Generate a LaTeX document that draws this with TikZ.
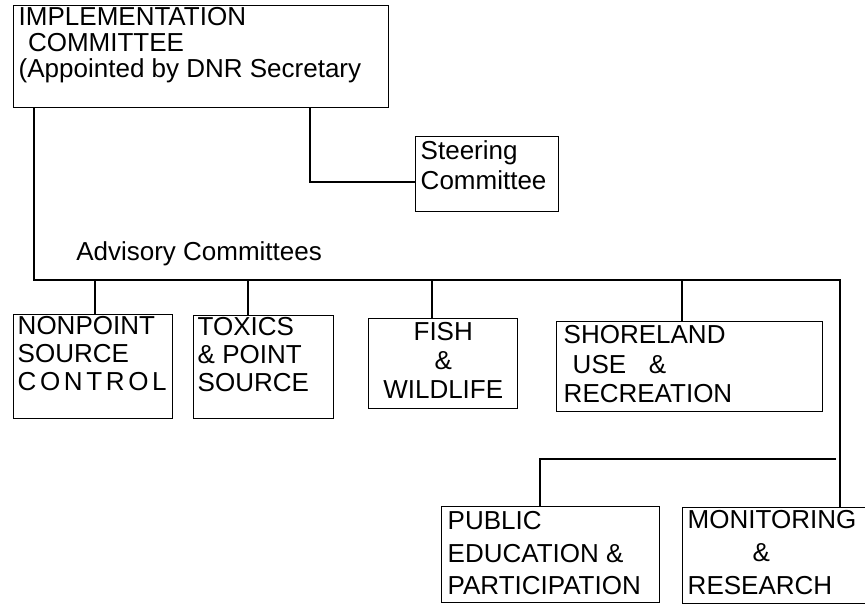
\documentclass[tikz,border=0pt]{standalone}
\usepackage{fontspec}
\setmainfont{Liberation Sans}
\begin{document}
\begin{tikzpicture}[x=0.75pt, y=-0.75pt,
        font=\fontsize{19.5}{19.5}\selectfont,
        committee/.style={draw, line width=1.1pt, anchor=north west, inner xsep=3.75pt, inner ysep=1.5pt},
        link/.style={line width=2.2pt}]
        \useasboundingbox (0,0) rectangle (865,607);
        \clip (0,0) rectangle (865,607);
        % top of the chart
        \node[committee] (impl) at (13,5) {\parbox[t][73.5pt][t]{273.75pt}{\baselineskip=19.5pt IMPLEMENTATION\\ \hspace*{7pt}COMMITTEE\\(Appointed by DNR Secretary}};
        \node[committee, inner ysep=3pt] (steer) at (415,136) {\parbox[t][50.25pt][t]{99.75pt}{\baselineskip=22.5pt Steering\\Committee}};
        \node[anchor=base west, inner sep=0pt] (advisory) at (76,260) {Advisory Committees};
        % advisory committees
        \node[committee, inner xsep=3pt] (nonpoint) at (13,314) {\parbox[t][75pt][t]{113.25pt}{\baselineskip=21pt NONPOINT\\SOURCE\\\addfontfeatures{LetterSpace=14}CONTROL}};
        \node[committee, inner xsep=3pt] (toxics) at (193,315) {\parbox[t][74.25pt][t]{99pt}{\baselineskip=21pt TOXICS\\\& POINT\\SOURCE}};
        \node[committee, inner ysep=3pt] (fish) at (368,318) {\parbox[t][61.5pt][t]{104.25pt}{\centering\baselineskip=21.5pt FISH\\\&\\WILDLIFE}};
        \node[committee, inner xsep=5.25pt, inner ysep=3pt] (shore) at (556,321) {\parbox[t][61.5pt][t]{189pt}{\baselineskip=22pt SHORELAND\\ \hspace*{6.75pt}USE\hspace{17pt}\&\\RECREATION}};
        \node[committee, inner xsep=4.5pt, inner ysep=3.75pt] (public) at (441,506) {\parbox[t][64.5pt][t]{154.5pt}{\baselineskip=24.4pt PUBLIC\\EDUCATION \&\\PARTICIPATION}};
        \node[committee, inner ysep=2.25pt] (monitor) at (682,507) {\parbox[t][67.5pt][t]{142.5pt}{\baselineskip=24.75pt MONITORING\\ \hspace*{48.75pt}\&\\RESEARCH}};
        % connectors
        \coordinate (busleft) at (34,280);
        \coordinate (busright) at (840,280);
        \coordinate (pubtap) at (836,459);
        \draw[link] (impl.south -| busleft) -- (busleft) -- (busright) -- (monitor.north -| busright);
        \draw[link] (impl.south -| 310,0) |- (steer.west |- 0,182);
        \foreach \name/\x in {nonpoint/95, toxics/248, fish/432, shore/682} {
            \draw[link] (\x,280) -- (\name.north -| \x,0);
        }
        \draw[link] (pubtap) -| (public.north -| 540,0);
    \end{tikzpicture}
\end{document}
